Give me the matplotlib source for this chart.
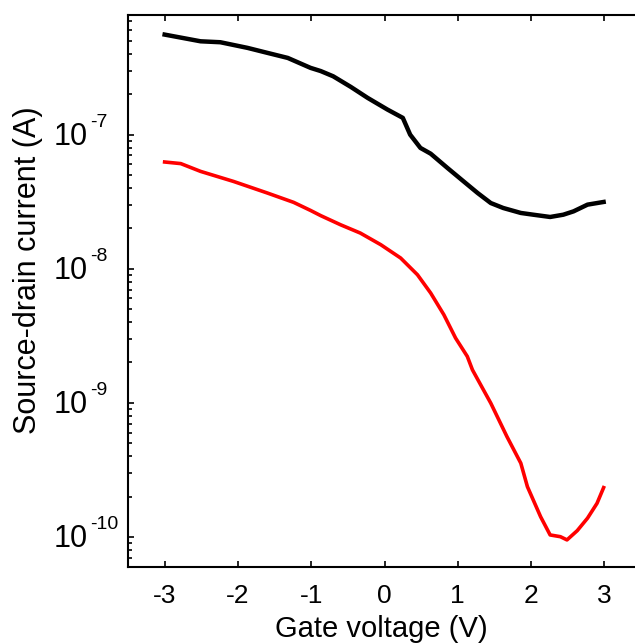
import numpy as np
import matplotlib.pyplot as plt
from matplotlib.ticker import LogLocator, NullFormatter

plt.rcParams['font.family'] = ['Liberation Sans', 'DejaVu Sans']

# gate voltage (V) and log10 of source-drain current (A)
vg_black = [-3.0, -2.51, -2.24, -1.87, -1.60, -1.32, -1.01, -0.87, -0.70, -0.46,
            -0.23, 0.04, 0.25, 0.35, 0.49, 0.63, 0.86, 1.08, 1.27, 1.45,
            1.62, 1.86, 2.03, 2.26, 2.44, 2.58, 2.77, 2.99]
logi_black = [-6.254, -6.304, -6.311, -6.353, -6.390, -6.428, -6.502, -6.526, -6.565, -6.644,
              -6.726, -6.813, -6.875, -7.000, -7.099, -7.142, -7.249, -7.349, -7.435, -7.510,
              -7.547, -7.584, -7.597, -7.614, -7.597, -7.572, -7.522, -7.502]

vg_red = [-3.0, -2.78, -2.51, -2.06, -1.60, -1.24, -1.01, -0.87, -0.60, -0.33,
          -0.05, 0.22, 0.45, 0.63, 0.81, 0.97, 1.13, 1.20, 1.35, 1.45,
          1.67, 1.86, 1.95, 2.13, 2.26, 2.40, 2.49, 2.63, 2.77, 2.90, 2.99]
logi_red = [-7.204, -7.216, -7.274, -7.349, -7.435, -7.505, -7.565, -7.604, -7.672, -7.734,
            -7.821, -7.920, -8.045, -8.181, -8.343, -8.517, -8.654, -8.754, -8.903, -9.002,
            -9.251, -9.450, -9.625, -9.849, -9.985, -9.998, -10.022, -9.953, -9.860, -9.749, -9.632]

x_ticks = [-3, -2, -1, 0, 1, 2, 3]
y_decades = [-10, -9, -8, -7]

fig = plt.figure(figsize=(6.35, 6.43), dpi=100)
ax = fig.add_axes([128 / 635, 76 / 643, 513 / 635, 552 / 643])

ax.plot(vg_black, 10 ** np.array(logi_black), color='black', linewidth=3.2)
ax.plot(vg_red, 10 ** np.array(logi_red), color='#ff0000', linewidth=2.6)

ax.set_yscale('log')
ax.set_xlim(-3.5, 3.5)
ax.set_ylim(5.97e-11, 7.8e-7)
ax.set_xticks(x_ticks)
ax.set_xticklabels([str(t) for t in x_ticks])
ax.yaxis.set_major_locator(LogLocator(base=10, numticks=20))
ax.yaxis.set_minor_locator(LogLocator(base=10, subs=np.arange(2, 10), numticks=20))
ax.yaxis.set_major_formatter(NullFormatter())
ax.yaxis.set_minor_formatter(NullFormatter())

# y tick labels drawn as "10" plus a raised exponent, left aligned like the original
for d in y_decades:
    ax.annotate('10', xy=(0, 10.0 ** d), xycoords=('axes fraction', 'data'),
                xytext=(-74, -10), textcoords='offset pixels',
                ha='left', va='baseline', fontsize=22)
    ax.annotate(str(d), xy=(0, 10.0 ** d), xycoords=('axes fraction', 'data'),
                xytext=(-38, 8), textcoords='offset pixels',
                ha='left', va='baseline', fontsize=14)

for s in ax.spines.values():
    s.set_linewidth(1.5)
ax.tick_params(which='both', direction='in', top=True, right=True, width=1.2)
ax.tick_params(which='major', length=4)
ax.tick_params(which='minor', length=3)
ax.tick_params(axis='x', labelsize=19, pad=12)

ax.set_xlabel('Gate voltage (V)', fontsize=21)
ax.xaxis.set_label_coords(0.493, -0.087)
ax.set_ylabel('Source-drain current (A)', fontsize=22)
ax.yaxis.set_label_coords(-0.166, 0.538)

plt.savefig('out.png', dpi=100)
plt.close()
